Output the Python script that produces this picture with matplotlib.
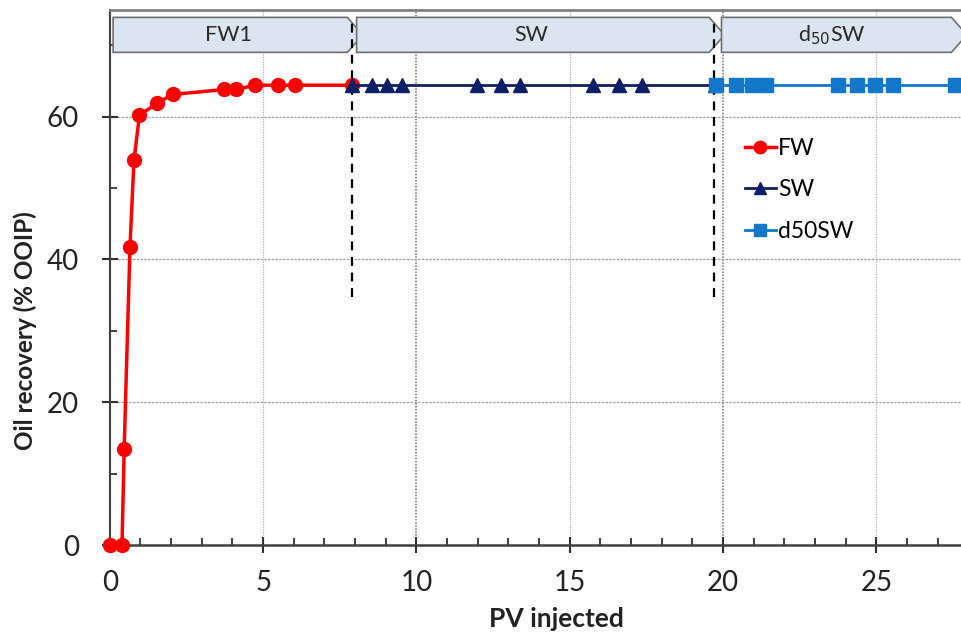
import matplotlib
matplotlib.use("Agg")
import matplotlib.pyplot as plt
from matplotlib.patches import Polygon
from matplotlib.ticker import MultipleLocator

plt.rcParams["font.family"] = ["Lato", "DejaVu Sans"]

# Recovery data for each injection stage (PV injected, % OOIP)
fw_pv = [0.0, 0.4, 0.47, 0.66, 0.79, 0.97, 1.55, 2.05, 3.73, 4.12, 4.74, 5.5, 6.04, 7.89]
fw_rec = [0.0, 0.0, 13.5, 41.8, 53.9, 60.2, 61.9, 63.1, 63.8, 63.8, 64.4, 64.4, 64.4, 64.4]

sw_pv = [7.9, 8.55, 9.04, 9.53, 11.99, 12.75, 13.38, 15.77, 16.61, 17.36, 19.74]
sw_rec = [64.4] * len(sw_pv)

d50_pv = [19.76, 20.41, 20.94, 21.4, 23.75, 24.36, 24.95, 25.55, 27.56, 28.3]
d50_rec = [64.4] * len(d50_pv)

# stage bands along the top: (label, start, end)
stages = [("FW1", 0.11, 8.25), ("SW", 8.05, 20.05), ("d$_{50}$SW", 19.95, 27.95)]
switch_pv = [7.9, 19.72]

fig = plt.figure(figsize=(9.61, 6.35), dpi=100)
ax = fig.add_axes([0.1142, 0.1417, 0.8858, 0.8433])
ax.set_xlim(0, 27.76)
ax.set_ylim(0, 75)

# grid lines
for x in [5, 15, 25]:
    ax.axvline(x, color="#b0b0b0", lw=0.9, ls=(0, (1, 1)), zorder=0)
for x in [10, 20]:
    ax.axvline(x, color="#707070", lw=1.1, ls=(0, (1, 1)), zorder=0)
for y in [20, 40, 60]:
    ax.axhline(y, color="#a0a0a0", lw=0.9, ls=(0, (2, 1)), zorder=0)

# stage arrows
y0, y1 = 69.0, 73.9
ym = (y0 + y1) / 2
for label, a, b in stages:
    tip = 0.5
    pts = [(a, y0), (b - tip, y0), (b, ym), (b - tip, y1), (a, y1)]
    ax.add_patch(Polygon(pts, closed=True, facecolor="#dbe5f1", edgecolor="#6f6f6f",
                         lw=1.2, zorder=2, clip_on=True))
    ax.text((a + min(b, 27.76)) / 2 - 0.3, ym, label, ha="center", va="center",
            fontsize=15.5, color="#2a2a2a", zorder=3)

# stage switch markers
for x in switch_pv:
    ax.plot([x, x], [34.7, 74], color="black", lw=1.6, ls=(0, (4, 3)), zorder=4)

ax.plot(fw_pv, fw_rec, color="#ff0000", lw=2.5, marker="o", ms=10, label="FW",
        zorder=5, clip_on=False)
ax.plot(sw_pv, sw_rec, color="#0d1f66", lw=2.0, marker="^", ms=10, label="SW", zorder=6)
ax.plot(d50_pv, d50_rec, color="#1277c9", lw=2.0, marker="s", ms=10, label="d50SW",
        zorder=7)

# axes styling
ax.spines["right"].set_visible(False)
ax.spines["left"].set_color("#404040")
ax.spines["bottom"].set_color("#404040")
ax.spines["top"].set_color("#808080")
ax.spines["left"].set_linewidth(1.5)
ax.spines["bottom"].set_linewidth(1.8)
ax.spines["top"].set_linewidth(2.0)

ax.xaxis.set_major_locator(MultipleLocator(5))
ax.xaxis.set_minor_locator(MultipleLocator(1))
ax.yaxis.set_major_locator(MultipleLocator(20))
ax.yaxis.set_minor_locator(MultipleLocator(10))
ax.tick_params(which="major", direction="inout", length=12, width=1.5, color="#303030",
               labelsize=20, labelcolor="#222222")
ax.tick_params(which="minor", direction="in", length=5, width=1.3, color="#303030")
ax.tick_params(axis="x", which="major", pad=12)
ax.tick_params(axis="y", which="major", pad=16)
ax.tick_params(top=False, right=False, which="both")

ax.set_xlabel("PV injected", fontsize=19, fontweight="bold", color="#222222")
ax.set_ylabel("Oil recovery (% OOIP)", fontsize=17.5, fontweight="bold", color="#222222")
ax.xaxis.set_label_coords(0.525, -0.115)
ax.yaxis.set_label_coords(-0.086, 0.40)

leg = ax.legend(loc="center left", bbox_to_anchor=(0.722, 0.663), frameon=False,
                fontsize=16.5, handlelength=1.35, handletextpad=0.1, labelspacing=0.9,
                markerscale=0.9)

fig.savefig("out.png", dpi=100)
